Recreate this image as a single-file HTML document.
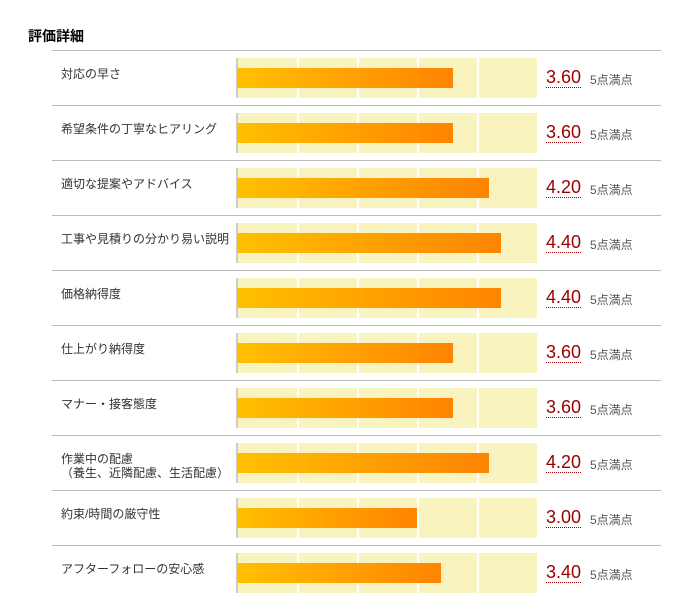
<!DOCTYPE html>
<html><head><meta charset="utf-8"><style>
body{margin:0;width:689px;height:593px;background:#fff;position:relative;overflow:hidden;font-family:"Liberation Sans","Noto Sans CJK JP",sans-serif;}
.t{position:absolute;left:28px;top:26px;font-size:14px;font-weight:bold;color:#000;}
.sep{position:absolute;left:52px;width:609px;height:1px;background:#bbb;}
.lab{position:absolute;left:61px;font-size:12px;color:#333;line-height:14px;}
.bg{position:absolute;left:236px;width:301px;height:40px;background:#f8f3bf;border-left:2px solid #ccc;box-sizing:border-box;}
.g{position:absolute;top:0;width:2px;height:40px;background:#fff;}
.bar{position:absolute;left:-1px;top:10px;height:20px;background:linear-gradient(to right,#ffc000,#ff8400);}
.sc{position:absolute;left:546px;font-size:18px;color:#990000;border-bottom:1px dotted #990000;line-height:20px;}
.mx{position:absolute;left:590px;font-size:12px;color:#555;}
</style></head><body>
<div class="t">評価詳細</div>
<script>
const d=[["対応の早さ",3.6],["希望条件の丁寧なヒアリング",3.6],["適切な提案やアドバイス",4.2],["工事や見積りの分かり易い説明",4.4],["価格納得度",4.4],["仕上がり納得度",3.6],["マナー・接客態度",3.6],["作業中の配慮<br>（養生、近隣配慮、生活配慮）",4.2],["約束/時間の厳守性",3.0],["アフターフォローの安心感",3.4]];
let h="";
d.forEach((r,i)=>{const y=50+55*i;
h+=`<div class="sep" style="top:${y}px"></div>`;
h+=`<div class="lab" style="top:${y+17}px">${r[0]}</div>`;
h+=`<div class="bg" style="top:${y+8}px">`+[59,119,179,239].map(x=>`<div class="g" style="left:${x}px"></div>`).join("")+`<div class="bar" style="width:${Math.round(r[1]*60)}px"></div></div>`;
h+=`<div class="sc" style="top:${y+17}px">${r[1].toFixed(2)}</div><div class="mx" style="top:${y+21}px">5点満点</div>`;});
document.write(h);
</script>
</body></html>
